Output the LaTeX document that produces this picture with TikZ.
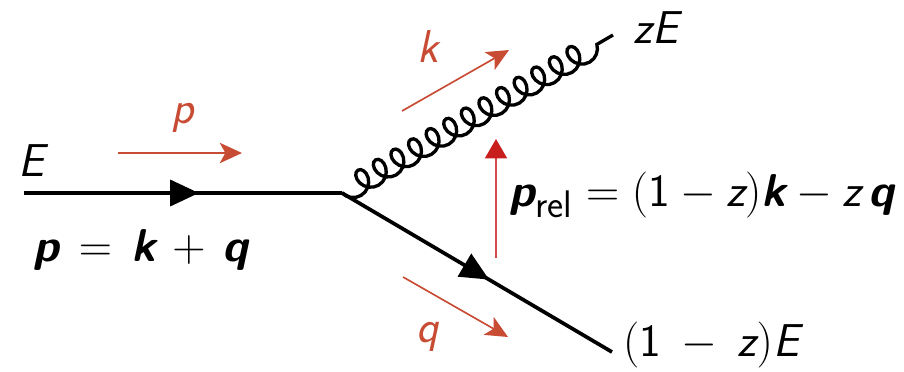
\documentclass[tikz,border=0pt]{standalone}
\usepackage{amsmath}
\usetikzlibrary{arrows.meta, decorations.pathmorphing, decorations.markings}
\DeclareMathAlphabet{\mathsl}{TU}{lmss}{m}{sl}
\DeclareMathAlphabet{\mathbsl}{TU}{lmss}{bx}{sl}
\DeclareMathAlphabet{\mathup}{TU}{lmss}{m}{n}
\definecolor{momred}{RGB}{200,76,52}
\definecolor{relred}{RGB}{200,30,30}

\tikzset{
  label/.style={font=\Huge, inner sep=0pt, anchor=center},
  momlabel/.style={label, text=momred},
  quark/.style={line width=2pt, postaction={decorate}, decoration={markings, mark=at position #1 with {\arrow{Triangle[length=15.5pt, width=14pt]}}}},
  gluon/.style={line width=1.8pt, decorate, decoration={coil, aspect=0.86, amplitude=6.3pt, segment length=11pt, mirror}},
  mom/.style={draw=momred, line width=0.9pt, -{Stealth[length=12pt, width=11pt, inset=3pt]}},
  rel/.style={draw=relred!80, line width=0.7pt, -{Triangle[length=10.5pt, width=12pt, color=relred, fill=relred]}}
}

\begin{document}
\begin{tikzpicture}[x=0.54pt, y=-0.54pt]
\useasboundingbox (0,0) rectangle (904,371);

\coordinate (start) at (24,193);
\coordinate (vertex) at (342,193);
\coordinate (gluonend) at (613,35);
\coordinate (quarkend) at (612,352);

\node (inE) [label] at (31,161) {$\mathsl{E}$};
\node (outZ) [label] at (656,28) {$\mathsl{zE}$};
\node (outQ) [label] at (711,345) {$\mathup{(1}\mskip4mu-\mskip4mu\mathsl{z}\mathup{)}\mathsl{E}$};
\node (sum) [label] at (141,250) {$\mathbsl{p}\mskip2.5mu=\mskip2.5mu\mathbsl{k}\mskip2.5mu+\mskip2.5mu\mathbsl{q}$};
\node (prel) [label] at (702,195) {$\mathbsl{p}_{\mathup{rel}}=\mathup{(1}-\mathsl{z}\mathup{)}\mathbsl{k}-\mathsl{z}\,\mathbsl{q}$};

\node (labp) [momlabel] at (183,118) {$\mathsl{p}$};
\node (labk) [momlabel] at (428,47) {$\mathsl{k}$};
\node (labq) [momlabel] at (428,337) {$\mathsl{q}$};

\coordinate (pa) at (118,153);
\coordinate (pb) at (242,153);
\coordinate (ka) at (402,111);
\coordinate (kb) at (509,50);
\coordinate (qa) at (403,277);
\coordinate (qb) at (508,337);
\coordinate (ra) at (496,258);
\coordinate (rb) at (496,139);

\draw [quark=0.55] (start) -- (vertex);
\draw [quark=0.545] (vertex) -- (quarkend);
\draw [gluon] (vertex) -- (gluonend);

\draw [mom] (pa) -- (pb);
\draw [mom] (ka) -- (kb);
\draw [mom] (qa) -- (qb);
\draw [rel] (ra) -- (rb);
\end{tikzpicture}
\end{document}
